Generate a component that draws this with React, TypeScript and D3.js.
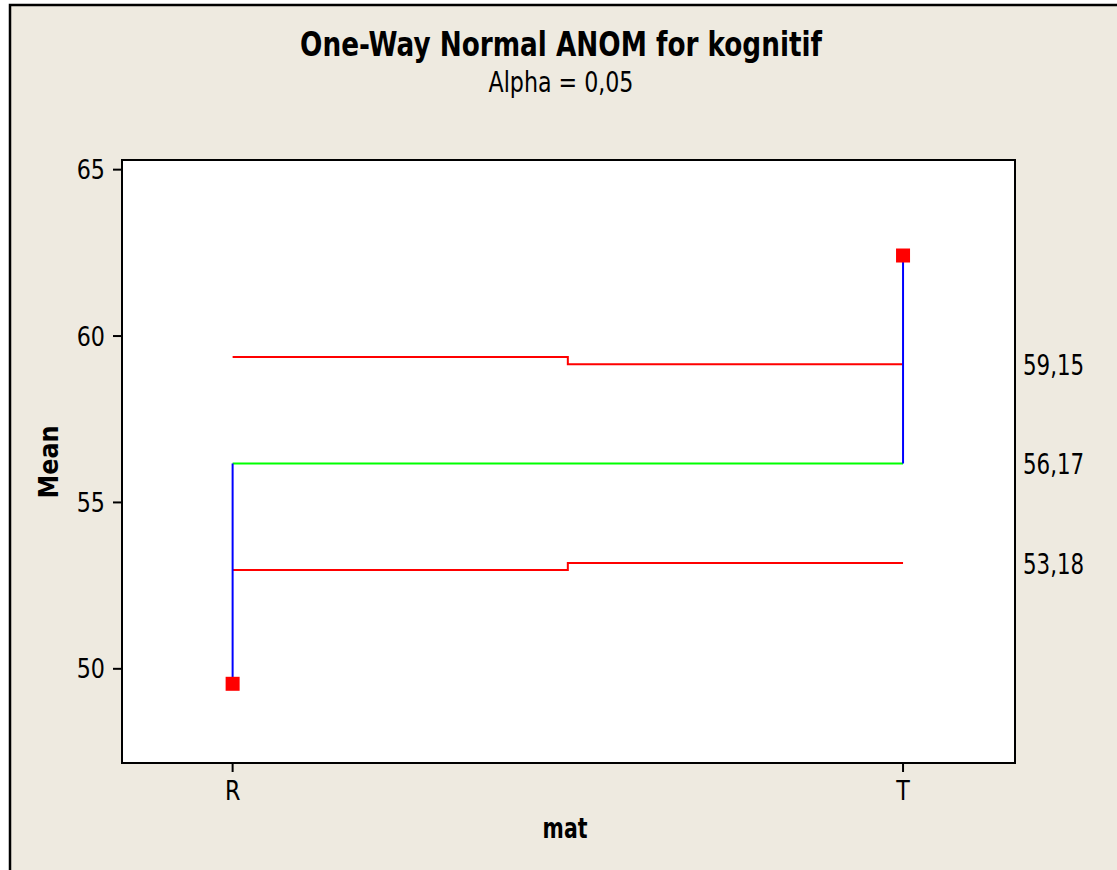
import React, { useEffect, useRef } from "react";
import * as d3 from "d3";

// groups and their means
const groups = ["R", "T"];
const means = [49.55, 62.42];
const center = 56.17;
const upperLimits = [59.37, 59.15];
const lowerLimits = [52.97, 53.18];
const limitLabels = ["59,15", "56,17", "53,18"];
const yTicks = [50, 55, 60, 65];

const App = () => {
  const svgRef = useRef<SVGSVGElement>(null);

  useEffect(() => {
    if (!svgRef.current) return;
    const width = 1117;
    const height = 870;
    const left = 122;
    const right = 1015;
    const top = 160;
    const bottom = 763;
    const font = "'DejaVu Sans Condensed', 'DejaVu Sans', sans-serif";

    d3.select(svgRef.current).selectAll("*").remove();
    const svg = d3.select(svgRef.current)
      .attr("width", width)
      .attr("height", height)
      .attr("viewBox", [0, 0, width, height]);

    // figure background + outer frame
    svg.append("rect").attr("width", width).attr("height", height).attr("fill", "#ffffff");
    svg.append("rect")
      .attr("x", 10).attr("y", 5)
      .attr("width", width + 20).attr("height", height + 20)
      .attr("fill", "#eeeae0")
      .attr("stroke", "#000").attr("stroke-width", 2.5);

    const x = d3.scaleLinear().domain([0.835, 2.167]).range([left, right]);
    const y = d3.scaleLinear().domain([47.17, 65.29]).range([bottom, top]);

    // narrow text: the original graph was squeezed horizontally
    const label = (tx: number, ty: number, txt: string, size: number, sx: number,
      anchor = "middle", bold = false, rot = 0) =>
      svg.append("text")
        .attr("transform", `translate(${tx},${ty}) rotate(${rot}) scale(${sx},1)`)
        .attr("text-anchor", anchor)
        .style("font-family", font)
        .style("font-size", `${size}px`)
        .style("font-weight", bold ? "bold" : "normal")
        .text(txt);

    // plot area
    svg.append("rect")
      .attr("x", left).attr("y", top)
      .attr("width", right - left).attr("height", bottom - top)
      .attr("fill", "#fff")
      .attr("stroke", "#000").attr("stroke-width", 2);

    // y axis ticks
    const yAxis = svg.append("g");
    yAxis.selectAll("line").data(yTicks).join("line")
      .attr("x1", left - 9).attr("x2", left)
      .attr("y1", d => y(d)).attr("y2", d => y(d))
      .attr("stroke", "#000").attr("stroke-width", 2);
    yTicks.forEach(t => label(left - 17, y(t) + 9.5, String(t), 26, 0.95, "end"));

    // x axis ticks
    const xAxis = svg.append("g");
    xAxis.selectAll("line").data(groups).join("line")
      .attr("x1", (_, i) => x(i + 1)).attr("x2", (_, i) => x(i + 1))
      .attr("y1", bottom).attr("y2", bottom + 9)
      .attr("stroke", "#000").attr("stroke-width", 2);
    groups.forEach((g, i) => label(x(i + 1), bottom + 37, g, 26, 0.95));

    // decision limits (step lines)
    const step = (vals: number[]) => {
      const pts: [number, number][] = [];
      vals.forEach((v, i) => {
        const x0 = i === 0 ? 1 : i + 0.5;
        const x1 = i === vals.length - 1 ? vals.length : i + 1.5;
        pts.push([x(x0), y(v)], [x(x1), y(v)]);
      });
      return d3.line()(pts);
    };
    svg.append("path").attr("d", step(upperLimits))
      .attr("fill", "none").attr("stroke", "#ff0000").attr("stroke-width", 2);
    svg.append("path").attr("d", step(lowerLimits))
      .attr("fill", "none").attr("stroke", "#ff0000").attr("stroke-width", 2);

    // center line
    svg.append("line")
      .attr("x1", x(1)).attr("x2", x(groups.length))
      .attr("y1", y(center)).attr("y2", y(center))
      .attr("stroke", "#00ff00").attr("stroke-width", 2);

    // stems
    svg.append("g").selectAll("line").data(means).join("line")
      .attr("x1", (_, i) => x(i + 1)).attr("x2", (_, i) => x(i + 1))
      .attr("y1", y(center)).attr("y2", d => y(d))
      .attr("stroke", "#0000ff").attr("stroke-width", 2);

    // mean points
    const s = 14;
    svg.append("g").selectAll("rect").data(means).join("rect")
      .attr("x", (_, i) => x(i + 1) - s / 2)
      .attr("y", d => y(d) - s / 2)
      .attr("width", s).attr("height", s)
      .attr("fill", "#ff0000");

    // limit labels at right
    const labelVals = [upperLimits[upperLimits.length - 1], center, lowerLimits[lowerLimits.length - 1]];
    labelVals.forEach((v, i) => label(right + 8, y(v) + 11, limitLabels[i], 29, 0.82, "start"));

    // titles
    label(561, 56, "One-Way Normal ANOM for kognitif", 34, 0.86, "middle", true);
    label(561, 92, "Alpha = 0,05", 28, 0.88);
    label(565, 838, "mat", 28, 0.81, "middle", true);
    svg.append("text")
      .attr("transform", `translate(58, 462) rotate(-90) scale(0.92,1)`)
      .attr("text-anchor", "middle")
      .style("font-family", "'DejaVu Sans', sans-serif")
      .style("font-size", "26px").style("font-weight", "bold")
      .text("Mean");
  }, []);

  return (
    <div style={{ position: "absolute", left: 0, top: 0 }}>
      <svg ref={svgRef} style={{ display: "block" }}></svg>
    </div>
  );
};

export default App;
